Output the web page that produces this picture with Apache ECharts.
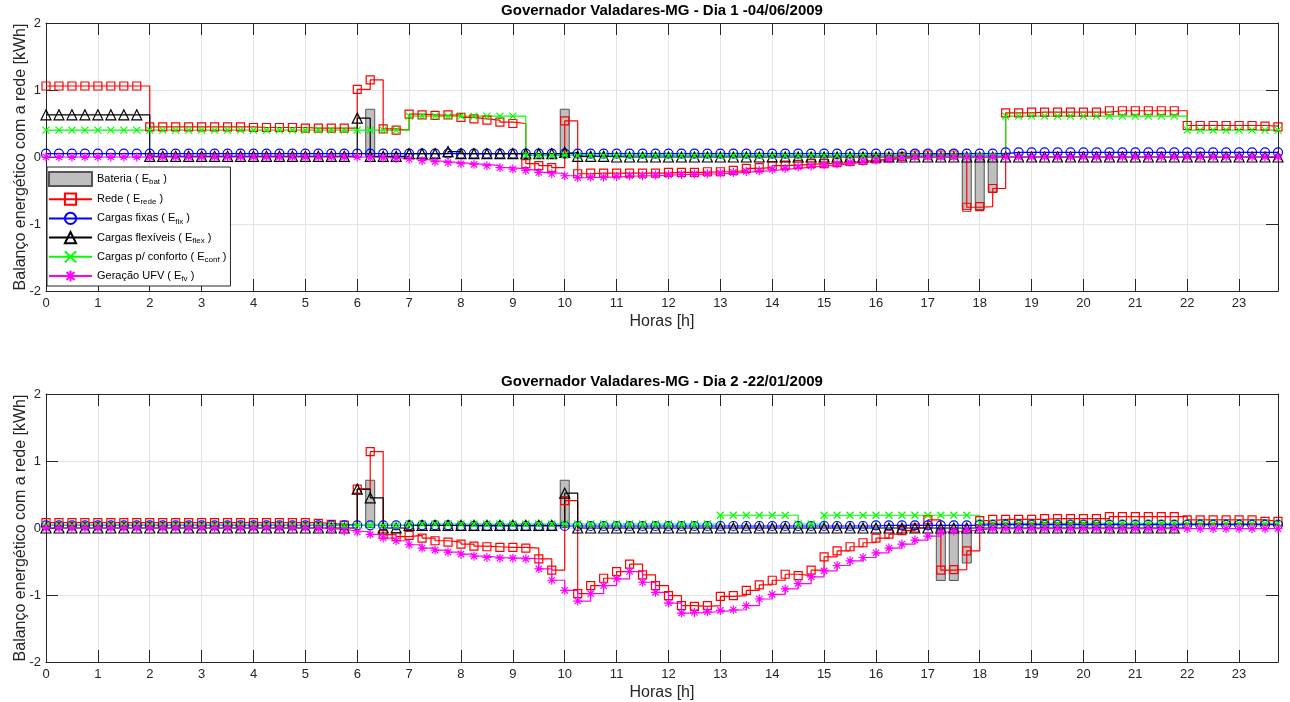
<!DOCTYPE html>
<html>
<head>
<meta charset="utf-8">
<script src="https://cdn.jsdelivr.net/npm/echarts@6/dist/echarts.min.js"></script>
<style>
  html, body { margin: 0; padding: 0; background: #fff; }
  #chartArea { width: 1290px; height: 702px; }
</style>
</head>
<body>
<div id="chartArea"></div>
<script>
// horas (passo de 15 min)
const horas = [
  0, 0.25, 0.5, 0.75, 1, 1.25, 1.5, 1.75, 2, 2.25, 2.5, 2.75, 3, 3.25, 3.5, 3.75,
  4, 4.25, 4.5, 4.75, 5, 5.25, 5.5, 5.75, 6, 6.25, 6.5, 6.75, 7, 7.25, 7.5, 7.75,
  8, 8.25, 8.5, 8.75, 9, 9.25, 9.5, 9.75, 10, 10.25, 10.5, 10.75, 11, 11.25, 11.5, 11.75,
  12, 12.25, 12.5, 12.75, 13, 13.25, 13.5, 13.75, 14, 14.25, 14.5, 14.75, 15, 15.25, 15.5, 15.75,
  16, 16.25, 16.5, 16.75, 17, 17.25, 17.5, 17.75, 18, 18.25, 18.5, 18.75, 19, 19.25, 19.5, 19.75,
  20, 20.25, 20.5, 20.75, 21, 21.25, 21.5, 21.75, 22, 22.25, 22.5, 22.75, 23, 23.25, 23.5, 23.75
];

// Dia 1 - 04/06/2009
const bat1 = [
  0, 0, 0, 0,  0, 0, 0, 0,  0, 0, 0, 0,  0, 0, 0, 0,  0, 0, 0, 0,  0, 0, 0, 0,
  0, 0.72, 0, 0,  0, 0, 0, 0,  0, 0, 0, 0,  0, 0, 0, 0,  0.72, 0, 0, 0,  0, 0, 0, 0,
  0, 0, 0, 0,  0, 0, 0, 0,  0, 0, 0, 0,  0, 0, 0, 0,  0, 0, 0, 0,  0, 0, 0, -0.79,
  -0.79, -0.53, 0, 0,  0, 0, 0, 0,  0, 0, 0, 0,  0, 0, 0, 0,  0, 0, 0, 0,  0, 0, 0, 0
];
const rede1 = [
  1.06, 1.06, 1.06, 1.06,  1.06, 1.06, 1.06, 1.06,  0.45, 0.45, 0.45, 0.45,  0.45, 0.45, 0.45, 0.45,
  0.44, 0.44, 0.44, 0.44,  0.43, 0.43, 0.43, 0.43,  1.01, 1.15, 0.42, 0.40,  0.64, 0.63, 0.62, 0.63,
  0.59, 0.57, 0.55, 0.52,  0.50, -0.10, -0.13, -0.16,  0.54, -0.25, -0.24, -0.24,  -0.24, -0.24, -0.24, -0.24,
  -0.23, -0.23, -0.23, -0.22,  -0.22, -0.20, -0.17, -0.16,  -0.13, -0.12, -0.11, -0.10,  -0.10, -0.085, -0.065, -0.05,
  -0.03, -0.01, 0.01, 0.03,  0.03, 0.03, 0.03, -0.75,  -0.74, -0.47, 0.66, 0.66,  0.67, 0.67, 0.67, 0.67,
  0.67, 0.67, 0.69, 0.69,  0.69, 0.69, 0.69, 0.69,  0.47, 0.47, 0.47, 0.47,  0.47, 0.47, 0.46, 0.45
];
const fix1 = [
  0.05, 0.05, 0.05, 0.05,  0.05, 0.05, 0.05, 0.05,  0.05, 0.05, 0.05, 0.05,  0.05, 0.05, 0.05, 0.05,
  0.05, 0.05, 0.05, 0.05,  0.05, 0.05, 0.05, 0.05,  0.05, 0.05, 0.05, 0.05,  0.05, 0.05, 0.05, 0.05,
  0.05, 0.05, 0.05, 0.05,  0.05, 0.05, 0.05, 0.05,  0.05, 0.05, 0.05, 0.05,  0.05, 0.05, 0.05, 0.05,
  0.05, 0.05, 0.05, 0.05,  0.05, 0.05, 0.05, 0.05,  0.05, 0.05, 0.05, 0.05,  0.05, 0.05, 0.05, 0.05,
  0.05, 0.05, 0.05, 0.05,  0.05, 0.05, 0.05, 0.05,  0.05, 0.05, 0.07, 0.07,  0.07, 0.07, 0.07, 0.07,
  0.07, 0.07, 0.07, 0.07,  0.07, 0.07, 0.07, 0.07,  0.07, 0.07, 0.07, 0.07,  0.07, 0.07, 0.07, 0.07
];
const flex1 = [
  0.63, 0.63, 0.63, 0.63,  0.63, 0.63, 0.63, 0.63,  0.01, 0.01, 0.01, 0.01,  0.01, 0.01, 0.01, 0.01,
  0.01, 0.01, 0.01, 0.01,  0.01, 0.01, 0.01, 0.01,  0.58, 0.01, 0.01, 0.01,  0.05, 0.05, 0.05, 0.08,
  0.05, 0.05, 0.05, 0.05,  0.05, 0.05, 0.05, 0.05,  0.07, 0.01, 0.01, 0.01,  0, 0, 0, 0,
  0, 0, 0, 0,  0, 0, 0, 0,  0, 0, 0, 0,  0, 0, 0, 0,
  0, 0, 0, 0,  0, 0, 0, 0,  0, 0, 0, 0,  0, 0, 0, 0,
  0, 0, 0, 0,  0, 0, 0, 0,  0, 0, 0, 0,  0, 0, 0, 0
];
const conf1 = [
  0.40, 0.40, 0.40, 0.40,  0.40, 0.40, 0.40, 0.40,  0.40, 0.40, 0.40, 0.40,  0.40, 0.40, 0.40, 0.40,
  0.40, 0.40, 0.40, 0.40,  0.40, 0.40, 0.40, 0.40,  0.40, 0.40, 0.40, 0.40,  0.61, 0.61, 0.61, 0.61,
  0.61, 0.61, 0.61, 0.61,  0.61, 0.02, 0.02, 0.02,  0.03, 0.02, 0.02, 0.02,  0.02, 0.02, 0.02, 0.02,
  0.02, 0.02, 0.02, 0.02,  0.02, 0.02, 0.02, 0.02,  0.02, 0.02, 0.02, 0.02,  0.02, 0.02, 0.02, 0.02,
  0.02, 0.02, 0.02, 0.02,  0.02, 0.02, 0.02, 0.02,  0.02, 0.02, 0.61, 0.61,  0.61, 0.61, 0.61, 0.61,
  0.61, 0.61, 0.61, 0.61,  0.61, 0.61, 0.61, 0.61,  0.40, 0.40, 0.40, 0.40,  0.40, 0.40, 0.40, 0.40
];
const fv1 = [
  0, 0, 0, 0,  0, 0, 0, 0,  0, 0, 0, 0,  0, 0, 0, 0,  0, 0, 0, 0,  0, 0, 0, 0,
  0, -0.01, -0.01, -0.02,  -0.03, -0.055, -0.07, -0.085,  -0.10, -0.11, -0.13, -0.16,  -0.18, -0.20, -0.23, -0.25,
  -0.28, -0.31, -0.30, -0.30,  -0.29, -0.28, -0.28, -0.27,  -0.265, -0.26, -0.255, -0.25,  -0.24, -0.23, -0.215, -0.205,
  -0.185, -0.17, -0.15, -0.135,  -0.12, -0.10, -0.08, -0.065,  -0.045, -0.025, -0.01, 0,  0, 0, 0, 0,
  0, 0, 0, 0,  0, 0, 0, 0,  0, 0, 0, 0,  0, 0, 0, 0,  0, 0, 0, 0,  0, 0, 0, 0
];

// Dia 2 - 22/01/2009
const bat2 = [
  0, 0, 0, 0,  0, 0, 0, 0,  0, 0, 0, 0,  0, 0, 0, 0,  0, 0, 0, 0,  0, 0, 0, 0,
  0, 0.72, 0, 0,  0, 0, 0, 0,  0, 0, 0, 0,  0, 0, 0, 0,  0.72, 0, 0, 0,  0, 0, 0, 0,
  0, 0, 0, 0,  0, 0, 0, 0,  0, 0, 0, 0,  0, 0, 0, 0,  0, 0, 0, 0,  0, -0.79, -0.79, -0.53,
  0, 0, 0, 0,  0, 0, 0, 0,  0, 0, 0, 0,  0, 0, 0, 0,  0, 0, 0, 0,  0, 0, 0, 0
];
const rede2 = [
  0.08, 0.08, 0.08, 0.08,  0.08, 0.08, 0.08, 0.08,  0.08, 0.08, 0.08, 0.08,  0.08, 0.08, 0.08, 0.08,
  0.08, 0.08, 0.08, 0.08,  0.08, 0.07, 0.055, 0.045,  0.58, 1.14, -0.10, -0.13,  -0.11, -0.15, -0.19, -0.21,
  -0.24, -0.27, -0.28, -0.29,  -0.29, -0.30, -0.46, -0.63,  0.41, -0.98, -0.86, -0.75,  -0.65, -0.54, -0.70, -0.86,
  -1.01, -1.16, -1.17, -1.16,  -1.02, -1.01, -0.93, -0.85,  -0.78, -0.69, -0.71, -0.63,  -0.43, -0.34, -0.28, -0.22,
  -0.15, -0.09, -0.04, 0.00,  0.12, -0.63, -0.62, -0.34,  0.11, 0.13, 0.13, 0.13,  0.13, 0.14, 0.14, 0.14,
  0.14, 0.14, 0.17, 0.17,  0.17, 0.17, 0.17, 0.17,  0.12, 0.12, 0.12, 0.12,  0.12, 0.12, 0.10, 0.10
];
const fix2 = [
  0.04, 0.04, 0.04, 0.04,  0.04, 0.04, 0.04, 0.04,  0.04, 0.04, 0.04, 0.04,  0.04, 0.04, 0.04, 0.04,
  0.04, 0.04, 0.04, 0.04,  0.04, 0.04, 0.04, 0.04,  0.04, 0.04, 0.04, 0.04,  0.04, 0.04, 0.04, 0.04,
  0.03, 0.03, 0.03, 0.03,  0.03, 0.03, 0.03, 0.03,  0.03, 0.03, 0.03, 0.03,  0.03, 0.03, 0.03, 0.03,
  0.03, 0.03, 0.03, 0.03,  0.03, 0.03, 0.03, 0.03,  0.03, 0.03, 0.03, 0.03,  0.03, 0.03, 0.03, 0.03,
  0.04, 0.04, 0.04, 0.04,  0.04, 0.04, 0.04, 0.04,  0.05, 0.05, 0.05, 0.05,  0.05, 0.05, 0.05, 0.05,
  0.05, 0.05, 0.05, 0.05,  0.05, 0.05, 0.05, 0.05,  0.05, 0.05, 0.05, 0.05,  0.05, 0.05, 0.05, 0.05
];
const flex2 = [
  0, 0, 0, 0,  0, 0, 0, 0,  0, 0, 0, 0,  0, 0, 0, 0,  0, 0, 0, 0,  0, 0, 0, 0,
  0.58, 0.45, 0, 0,  0.04, 0.04, 0.04, 0.04,  0.04, 0.04, 0.04, 0.04,  0.04, 0.04, 0.04, 0.04,
  0.52, 0, 0, 0,  0, 0, 0, 0,  0, 0, 0, 0,  0, 0, 0, 0,  0, 0, 0, 0,  0, 0, 0, 0,
  0, 0, 0, 0,  0, 0, 0, 0,  0, 0, 0, 0,  0, 0, 0, 0,  0, 0, 0, 0,  0, 0, 0, 0
];
const conf2 = [
  0.04, 0.04, 0.04, 0.04,  0.04, 0.04, 0.04, 0.04,  0.04, 0.04, 0.04, 0.04,  0.04, 0.04, 0.04, 0.04,
  0.04, 0.04, 0.04, 0.04,  0.04, 0.04, 0.04, 0.04,  0.04, 0.04, 0.04, 0.04,  0.06, 0.06, 0.06, 0.06,
  0.06, 0.06, 0.06, 0.06,  0.06, 0.06, 0.06, 0.06,  0.06, 0.06, 0.06, 0.06,  0.06, 0.06, 0.06, 0.06,
  0.06, 0.06, 0.06, 0.06,  0.19, 0.19, 0.19, 0.19,  0.19, 0.19, 0.06, 0.06,  0.19, 0.19, 0.19, 0.19,
  0.19, 0.19, 0.19, 0.19,  0.19, 0.19, 0.19, 0.19,  0.07, 0.07, 0.07, 0.07,  0.07, 0.07, 0.07, 0.07,
  0.07, 0.07, 0.07, 0.07,  0.07, 0.07, 0.07, 0.07,  0.07, 0.07, 0.07, 0.07,  0.07, 0.07, 0.07, 0.07
];
const fv2 = [
  0, 0, 0, 0,  0, 0, 0, 0,  0, 0, 0, 0,  0, 0, 0, 0,  0, 0, 0, 0,  0, -0.01, -0.02, -0.045,
  -0.06, -0.095, -0.15, -0.19,  -0.25, -0.30, -0.33, -0.36,  -0.39, -0.42, -0.44, -0.45,  -0.45, -0.46, -0.61, -0.78,
  -0.93, -1.09, -0.98, -0.86,  -0.76, -0.65, -0.81, -0.96,  -1.12, -1.27, -1.26, -1.25,  -1.23, -1.22, -1.16, -1.06,
  -0.99, -0.91, -0.83, -0.73,  -0.64, -0.56, -0.49, -0.44,  -0.37, -0.30, -0.24, -0.18,  -0.12, -0.06, -0.045, -0.03,
  -0.01, -0.01, -0.01, -0.01,  -0.01, -0.01, -0.01, -0.01,  -0.01, -0.01, -0.01, -0.01,
  -0.01, -0.01, -0.01, -0.01,  -0.01, -0.01, -0.01, -0.01,  -0.01, -0.01, -0.01, -0.01
];

const titulos = ['Governador Valadares-MG - Dia 1 -04/06/2009', 'Governador Valadares-MG - Dia 2 -22/01/2009'];
const nomes = ['Bateria', 'Rede', 'Cargas fixas', 'Cargas flexíveis', 'Cargas p/ conforto', 'Geração UFV'];
const subs = ['bat', 'rede', 'fix', 'flex', 'conf', 'fv'];
const yTicks = [-2, -1, 0, 1, 2];

const fonte = '"Liberation Sans", Arial, sans-serif';
const corEixo = '#262626';
const simboloX = 'path://M0,0L10,10M10,0L0,10';
const simboloAst = 'path://M5,0L5,10M0,5L10,5M1.5,1.5L8.5,8.5M8.5,1.5L1.5,8.5';

function pares(arr) {
  return horas.map((t, i) => [t, arr[i]]);
}
function barras(arr) {
  return horas.map((t, i) => [t, arr[i]]).filter(p => p[1] !== 0);
}

function linha(nome, arr, cor, simbolo, tam, g) {
  return {
    name: nome, type: 'line', step: 'end',
    xAxisIndex: g * 2, yAxisIndex: g * 2,
    data: pares(arr),
    symbol: simbolo, symbolSize: tam, showSymbol: true,
    lineStyle: { color: cor, width: 1.2 },
    itemStyle: { color: 'rgba(255,255,255,0)', borderColor: cor, borderWidth: 1.2 },
    emphasis: { disabled: true },
    animation: false
  };
}

function bateria(arr, g) {
  return {
    name: nomes[0], type: 'bar',
    xAxisIndex: g * 2, yAxisIndex: g * 2,
    data: barras(arr), barWidth: 10,
    itemStyle: { color: '#bfbfbf', borderColor: '#555', borderWidth: 1 },
    emphasis: { disabled: true },
    animation: false
  };
}

const grids = [
  { left: 46, right: 12, top: 23, height: 268, outerBoundsMode: 'none', containLabel: false },
  { left: 46, right: 12, top: 394, height: 268, outerBoundsMode: 'none', containLabel: false }
];

let xAxes = [];
let yAxes = [];
grids.forEach((gr, g) => {
  xAxes.push({
    gridIndex: g, type: 'value', position: 'bottom', min: 0, max: 23.75, interval: 1,
    name: 'Horas [h]', nameLocation: 'middle', nameGap: 23,
    nameTextStyle: { fontFamily: fonte, fontSize: 16, color: corEixo },
    axisLine: { show: true, onZero: false, lineStyle: { color: corEixo, width: 1 } },
    axisTick: { show: true, inside: true, length: 12, lineStyle: { color: corEixo } },
    axisLabel: {
      margin: 6, fontFamily: fonte, fontSize: 13, color: corEixo, showMaxLabel: false,
      formatter: v => (Number.isInteger(v) ? String(v) : '')
    },
    splitLine: { show: true, lineStyle: { color: '#e3e3e3', width: 1 } }
  });
  xAxes.push({
    gridIndex: g, type: 'value', position: 'top', min: 0, max: 23.75, interval: 1,
    axisLine: { show: true, onZero: false, lineStyle: { color: corEixo, width: 1 } },
    axisTick: { show: true, inside: true, length: 12, lineStyle: { color: corEixo } },
    axisLabel: { show: false },
    splitLine: { show: false }
  });
  yAxes.push({
    gridIndex: g, type: 'value', position: 'left',
    min: yTicks[0], max: yTicks[yTicks.length - 1], interval: 1,
    name: 'Balanço energético com a rede [kWh]', nameLocation: 'middle', nameGap: 17,
    nameMoveOverlap: false,
    nameTextStyle: { fontFamily: fonte, fontSize: 16, color: corEixo },
    axisLine: { show: true, onZero: false, lineStyle: { color: corEixo, width: 1 } },
    axisTick: { show: true, inside: true, length: 12, lineStyle: { color: corEixo } },
    axisLabel: { margin: 5, fontFamily: fonte, fontSize: 13, color: corEixo },
    splitLine: { show: true, lineStyle: { color: '#e3e3e3', width: 1 } }
  });
  yAxes.push({
    gridIndex: g, type: 'value', position: 'right',
    min: yTicks[0], max: yTicks[yTicks.length - 1], interval: 1,
    axisLine: { show: true, onZero: false, lineStyle: { color: corEixo, width: 1 } },
    axisTick: { show: true, inside: true, length: 12, lineStyle: { color: corEixo } },
    axisLabel: { show: false },
    splitLine: { show: false }
  });
});

const dias = [
  [bat1, rede1, fix1, flex1, conf1, fv1],
  [bat2, rede2, fix2, flex2, conf2, fv2]
];
let series = [];
dias.forEach((d, g) => {
  series.push(bateria(d[0], g));
  series.push(linha(nomes[1], d[1], '#ff0000', 'rect', 8, g));
  series.push(linha(nomes[2], d[2], '#0000ff', 'circle', 9, g));
  series.push(linha(nomes[3], d[3], '#000000', 'triangle', 10, g));
  series.push(linha(nomes[4], d[4], '#00ff00', simboloX, 7, g));
  series.push(linha(nomes[5], d[5], '#ff00ff', simboloAst, 9, g));
});

const chartDom = document.getElementById('chartArea');
const myChart = echarts.init(chartDom, null, { renderer: 'canvas' });

const option = {
  backgroundColor: '#ffffff',
  animation: false,
  title: [
    { text: titulos[0], left: 662, top: 3, textAlign: 'center', padding: 0,
      textStyle: { fontFamily: fonte, fontSize: 15, fontWeight: 'bold', color: '#000' } },
    { text: titulos[1], left: 662, top: 374, textAlign: 'center', padding: 0,
      textStyle: { fontFamily: fonte, fontSize: 15, fontWeight: 'bold', color: '#000' } }
  ],
  legend: {
    data: nomes.map((n, i) => (i === 0 ? { name: n, icon: 'rect' } : { name: n })),
    orient: 'vertical', left: 47, top: 167,
    itemWidth: 43, itemHeight: 14, itemGap: 5.6,
    padding: [4, 4, 3, 1],
    backgroundColor: '#fff', borderColor: corEixo, borderWidth: 1,
    selectedMode: false,
    formatter: name => {
      const i = nomes.indexOf(name);
      return '{a|' + name + ' ( E}{s|' + subs[i] + '}{a| )}';
    },
    textStyle: {
      fontFamily: fonte, fontSize: 11, color: '#000',
      rich: {
        a: { fontFamily: fonte, fontSize: 11, color: '#000', lineHeight: 14, verticalAlign: 'middle' },
        s: { fontFamily: fonte, fontSize: 8, color: '#000', lineHeight: 9, verticalAlign: 'bottom' }
      }
    }
  },
  grid: grids,
  xAxis: xAxes,
  yAxis: yAxes,
  series: series
};

option && myChart.setOption(option);
</script>
</body>
</html>
